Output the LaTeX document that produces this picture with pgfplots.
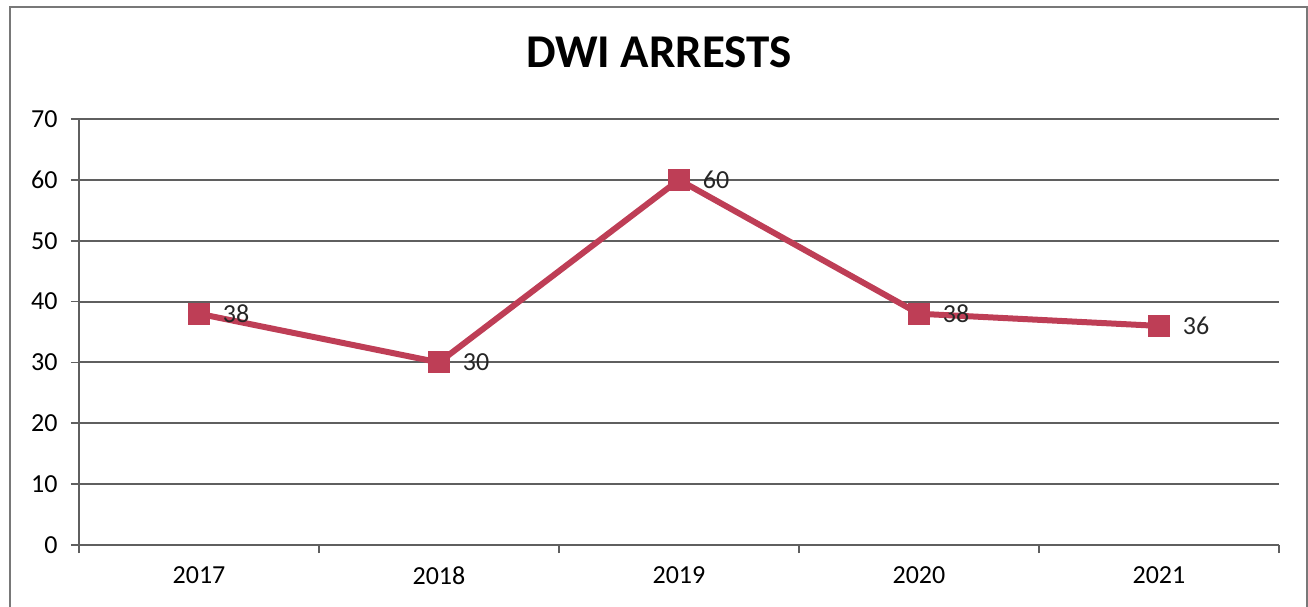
\documentclass[border=0pt]{standalone}
\usepackage{pgfplots}
\pgfplotsset{compat=1.18}
\usepackage{fontspec}
\setmainfont{Carlito}

\definecolor{seriesred}{RGB}{190,62,86}
\definecolor{gridgray}{RGB}{95,95,95}
\definecolor{framegray}{RGB}{120,120,120}

\begin{document}
\begin{tikzpicture}[x=1pt,y=1pt]
\begin{axis}[
    at={(0,0)}, anchor=south west,
    scale only axis,
    width=1200pt, height=426pt,
    xmin=0.5, xmax=5.5,
    ymin=0, ymax=70,
    ytick={0,10,...,70},
    xtick={0.5,1.5,...,5.5},
    xticklabels={2017,2018,2019,2020,2021},
    x tick label as interval,
    axis lines=left,
    axis line style={-, draw=gridgray, line width=2pt},
    tick align=outside,
    major tick length=8pt,
    tick style={draw=gridgray, line width=1.6pt},
    ymajorgrids,
    major grid style={draw=gridgray, line width=2pt},
    /pgf/number format/assume math mode=true,
    ticklabel style={font=\fontsize{26}{26}\selectfont},
    yticklabel style={xshift=-10pt},
    xticklabel style={yshift=-10pt},
    title={DWI ARRESTS},
    title style={at={(axis description cs:0.4833,1.143)}, anchor=center,
        font=\fontsize{47}{47}\selectfont\bfseries},
    clip=false,
    nodes near coords,
    nodes near coords align={horizontal},
    every node near coord/.append style={anchor=west, xshift=24pt,
        inner sep=0pt, font=\fontsize{26}{26}\selectfont, text=black!85},
]
\addplot[color=seriesred, line width=6pt, mark=square*, mark size=10.5pt,
    mark options={solid, fill=seriesred, draw=seriesred, line width=0pt}]
    coordinates {
    (1,38)
    (2,30)
    (3,60)
    (4,38)
    (5,36)
};
\end{axis}
\draw[framegray, line width=2pt] (-69,-80) rectangle (1228,538);
\pgfresetboundingbox
\useasboundingbox (-79,-62) rectangle (1229,545);
\end{tikzpicture}
\end{document}
